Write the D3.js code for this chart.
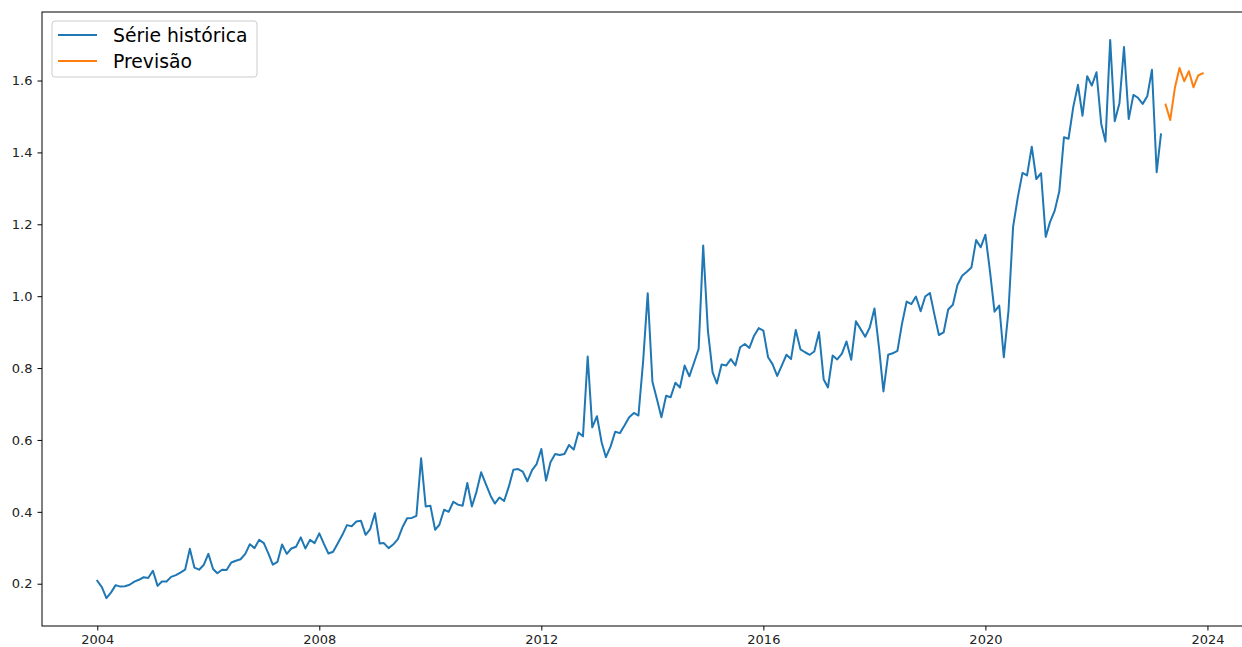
<!DOCTYPE html>
<html>
<head>
<meta charset="utf-8">
<script src="https://cdn.jsdelivr.net/npm/d3@7"></script>
<style>
  html, body { margin: 0; padding: 0; background: #fff; overflow: hidden; }
  svg { display: block; font-family: "DejaVu Sans", sans-serif; }
</style>
</head>
<body>
<svg id="chart" width="1242" height="647"></svg>
<script>
// Historical monthly series, starting Jan 2004
const histStart = "2004-01";
const histValues = [
  // 2004
  0.208, 0.190, 0.160, 0.176, 0.196, 0.192, 0.193, 0.197, 0.206, 0.211, 0.218, 0.216,
  // 2005
  0.236, 0.194, 0.206, 0.206, 0.219, 0.224, 0.231, 0.239, 0.297, 0.245, 0.239, 0.252,
  // 2006
  0.283, 0.241, 0.229, 0.239, 0.238, 0.259, 0.264, 0.268, 0.283, 0.310, 0.299, 0.322,
  // 2007
  0.313, 0.283, 0.253, 0.261, 0.309, 0.283, 0.298, 0.303, 0.329, 0.298, 0.322, 0.313,
  // 2008
  0.340, 0.310, 0.284, 0.289, 0.312, 0.336, 0.363, 0.360, 0.373, 0.375, 0.336, 0.352,
  // 2009
  0.396, 0.312, 0.313, 0.299, 0.309, 0.324, 0.357, 0.382, 0.383, 0.389, 0.549, 0.415,
  // 2010
  0.417, 0.350, 0.364, 0.406, 0.400, 0.428, 0.420, 0.417, 0.480, 0.415, 0.457, 0.510,
  // 2011
  0.477, 0.445, 0.423, 0.440, 0.430, 0.470, 0.517, 0.519, 0.512, 0.485, 0.516, 0.533,
  // 2012
  0.575, 0.487, 0.538, 0.561, 0.558, 0.561, 0.586, 0.573, 0.621, 0.610, 0.832, 0.635,
  // 2013
  0.666, 0.593, 0.552, 0.582, 0.623, 0.619, 0.640, 0.663, 0.675, 0.668, 0.820, 1.008,
  // 2014
  0.762, 0.711, 0.663, 0.723, 0.719, 0.759, 0.746, 0.807, 0.777, 0.814, 0.853, 1.141,
  // 2015
  0.904, 0.788, 0.757, 0.810, 0.807, 0.825, 0.807, 0.858, 0.867, 0.856, 0.890, 0.911,
  // 2016
  0.904, 0.830, 0.811, 0.778, 0.807, 0.837, 0.825, 0.906, 0.852, 0.844, 0.837, 0.846,
  // 2017
  0.900, 0.768, 0.746, 0.835, 0.824, 0.840, 0.874, 0.823, 0.930, 0.909, 0.887, 0.913,
  // 2018
  0.966, 0.853, 0.735, 0.837, 0.841, 0.848, 0.923, 0.985, 0.978, 0.999, 0.958, 0.999,
  // 2019
  1.009, 0.946, 0.892, 0.899, 0.963, 0.976, 1.031, 1.057, 1.068, 1.080, 1.156, 1.136,
  // 2020
  1.171, 1.066, 0.957, 0.974, 0.830, 0.960, 1.192, 1.275, 1.343, 1.336, 1.416, 1.326,
  // 2021
  1.342, 1.165, 1.206, 1.238, 1.291, 1.442, 1.438, 1.526, 1.588, 1.502, 1.612, 1.586,
  // 2022
  1.623, 1.480, 1.430, 1.713, 1.487, 1.537, 1.693, 1.493, 1.560, 1.552, 1.535, 1.556,
  // 2023
  1.630, 1.345, 1.450
];

// Forecast monthly series, starting Apr 2023
const fcStart = "2023-04";
const fcValues = [1.533, 1.490, 1.580, 1.635, 1.598, 1.626, 1.581, 1.614, 1.620];

const yTicks = [0.2, 0.4, 0.6, 0.8, 1.0, 1.2, 1.4, 1.6];
const xTickYears = [2004, 2008, 2012, 2016, 2020, 2024];
const seriesNames = ["Série histórica", "Previsão"];
const seriesColors = ["#1f77b4", "#ff7f0e"];

(function () {
  const parseMonth = d3.timeParse("%Y-%m");
  function toSeries(start, values) {
    const s = parseMonth(start);
    return values.map((v, i) => ({ date: d3.timeMonth.offset(s, i), value: v }));
  }
  const hist = toSeries(histStart, histValues);
  const fc = toSeries(fcStart, fcValues);
  const all = hist.concat(fc);

  const svg = d3.select("#chart");
  const mLeft = 42, mTop = 12, mBottom = 626, mRight = 1258;

  // matplotlib-like 5% margins
  const tExt = d3.extent(all, d => d.date);
  const tPad = (tExt[1] - tExt[0]) * 0.05;
  const x = d3.scaleTime()
    .domain([new Date(+tExt[0] - tPad), new Date(+tExt[1] + tPad)])
    .range([mLeft, mRight]);

  const vExt = d3.extent(all, d => d.value);
  const vPad = (vExt[1] - vExt[0]) * 0.05;
  const y = d3.scaleLinear()
    .domain([vExt[0] - vPad, vExt[1] + vPad])
    .range([mBottom, mTop]);

  // Lines
  const line = d3.line().x(d => x(d.date)).y(d => y(d.value));
  [hist, fc].forEach((s, i) => {
    svg.append("path")
      .datum(s)
      .attr("fill", "none")
      .attr("stroke", seriesColors[i])
      .attr("stroke-width", 2)
      .attr("stroke-linejoin", "round")
      .attr("stroke-linecap", "square")
      .attr("d", line);
  });

  // Axes
  const xAxis = d3.axisBottom(x)
    .tickValues(xTickYears.map(yr => new Date(yr, 0, 1)))
    .tickFormat(d3.timeFormat("%Y"))
    .tickSizeOuter(0)
    .tickSize(4.5)
    .tickPadding(4);
  const gx = svg.append("g").attr("transform", `translate(0,${mBottom})`).call(xAxis);

  const yAxis = d3.axisLeft(y)
    .tickValues(yTicks)
    .tickFormat(d3.format(".1f"))
    .tickSizeOuter(0)
    .tickSize(4.5)
    .tickPadding(5);
  const gy = svg.append("g").attr("transform", `translate(${mLeft},0)`).call(yAxis);

  [gx, gy].forEach(g => {
    g.select(".domain").remove();
    g.selectAll(".tick line").attr("stroke", "#000").attr("stroke-width", 1);
    g.selectAll(".tick text")
      .attr("fill", "#222")
      .style("font-family", "'DejaVu Sans', sans-serif")
      .style("font-size", "13px");
  });

  // Spines (right one is outside the visible area)
  svg.append("rect")
    .attr("x", mLeft).attr("y", mTop)
    .attr("width", mRight - mLeft).attr("height", mBottom - mTop)
    .attr("fill", "none").attr("stroke", "#000").attr("stroke-width", 1);

  // Legend
  const lg = svg.append("g").attr("transform", "translate(52,21)");
  lg.append("rect")
    .attr("x", 0).attr("y", 0).attr("width", 205).attr("height", 56)
    .attr("rx", 3).attr("ry", 3)
    .attr("fill", "#fff").attr("fill-opacity", 0.8)
    .attr("stroke", "#cccccc").attr("stroke-width", 1);
  seriesNames.forEach((name, i) => {
    const cy = 14 + i * 26;
    lg.append("line")
      .attr("x1", 6).attr("x2", 45).attr("y1", cy).attr("y2", cy)
      .attr("stroke", seriesColors[i]).attr("stroke-width", 2);
    lg.append("text")
      .attr("x", 61).attr("y", cy)
      .attr("dy", "0.36em")
      .attr("fill", "#000")
      .style("font-size", "18.8px")
      .text(name);
  });
})();
</script>
</body>
</html>
